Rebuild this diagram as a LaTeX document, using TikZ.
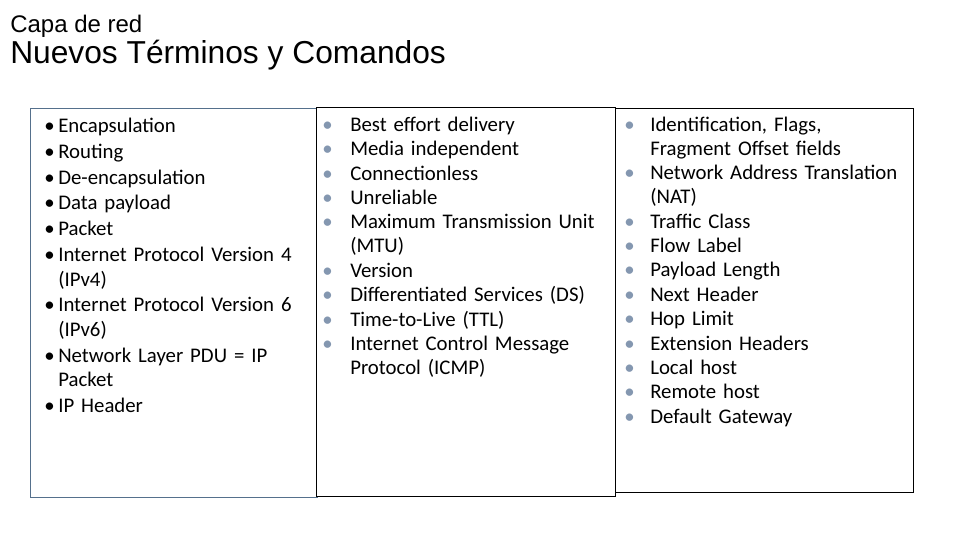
\documentclass[tikz,border=0pt]{standalone}
\usepackage{fontspec}
\setmainfont{Carlito}
\newfontfamily\titlefont{Liberation Sans}
\usetikzlibrary{positioning}
\definecolor{boxblue}{RGB}{85,112,140}
\definecolor{bulgray}{RGB}{132,151,176}
\newlength{\itmind}
\newcommand{\itmbul}{\textbullet}
\newcommand{\itm}[1]{\par\hangindent=\itmind\hangafter=1\noindent\makebox[\itmind][l]{\itmbul}#1}
\tikzset{
    %Define style for the frames
    termbox/.style={
           rectangle,
           draw=black, line width=1pt,
           fill=white,
           anchor=north west,
           inner sep=0pt,
           },
    %Define style for the bullet lists
    termlist/.style={
           anchor=north west,
           inner sep=0pt,
           text width=280pt,
           font=\fontsize{15.6}{18}\selectfont,
           },
    % Define style for the headings
    headline/.style={
           anchor=base west,
           inner sep=0pt,
           font=\titlefont\fontsize{#1}{#1}\selectfont,}
}
\begin{document}
\begin{tikzpicture}[x=0.75pt,y=-0.75pt]
\useasboundingbox (0,0) rectangle (960,540);
\node[headline=18](capa) at (10,32){Capa de red};
\node[headline=23.8](titulo) at (10,63){Nuevos Términos y Comandos};
\node[termbox, draw=boxblue, line width=0.75pt, minimum width=215.25pt, minimum height=291.75pt](box1) at (30,108){};
\node[termbox, minimum width=224.25pt, minimum height=291.75pt](box2) at (316,107){};
\node[termbox, minimum width=223.5pt, minimum height=288pt](box3) at (615,108){};
\node[termlist, font=\fontsize{15.6}{18.5}\selectfont, below right=-1pt and 10.5pt of box1.north west](list1){%
\raggedright\setlength{\itmind}{10.5pt}\setlength{\parskip}{0.8pt}%
\itm{Encapsulation}
\itm{Routing}
\itm{De-encapsulation}
\itm{Data payload}
\itm{Packet}
\itm{Internet Protocol Version 4\newline(IPv4)}
\itm{Internet Protocol Version 6\newline(IPv6)}
\itm{Network Layer PDU = IP\newline Packet}
\itm{IP Header}\par};
\node[termlist, below right=-0.3pt and 4.5pt of box2.north west](list2){%
\raggedright\setlength{\itmind}{21pt}\setlength{\parskip}{0.3pt}%
\renewcommand{\itmbul}{\textcolor{bulgray}{\textbullet}}%
\itm{Best effort delivery}
\itm{Media independent}
\itm{Connectionless}
\itm{Unreliable}
\itm{Maximum Transmission Unit\newline(MTU)}
\itm{Version}
\itm{Differentiated Services (DS)}
\itm{Time-to-Live (TTL)}
\itm{Internet Control Message\newline Protocol (ICMP)}\par};
\node[termlist, below right=-1pt and 6.75pt of box3.north west](list3){%
\raggedright\setlength{\itmind}{19.5pt}\setlength{\parskip}{0.3pt}%
\renewcommand{\itmbul}{\textcolor{bulgray}{\textbullet}}%
\itm{Identification, Flags,\newline Fragment Offset fields}
\itm{Network Address Translation\newline(NAT)}
\itm{Traffic Class}
\itm{Flow Label}
\itm{Payload Length}
\itm{Next Header}
\itm{Hop Limit}
\itm{Extension Headers}
\itm{Local host}
\itm{Remote host}
\itm{Default Gateway}\par};
\end{tikzpicture}
\end{document}
